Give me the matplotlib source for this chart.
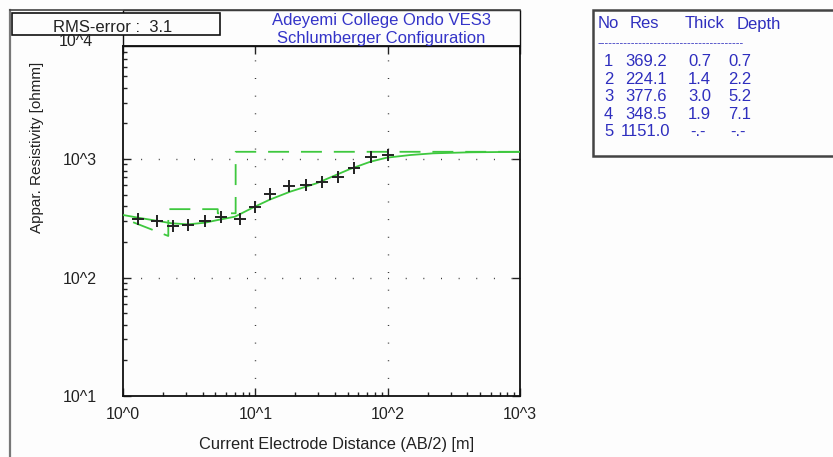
import matplotlib
matplotlib.use("Agg")
import matplotlib.pyplot as plt
from matplotlib.patches import Rectangle
from matplotlib.lines import Line2D
from matplotlib.ticker import FixedLocator, LogLocator, NullFormatter

plt.rcParams['font.family'] = ['Liberation Sans', 'DejaVu Sans']

# field data (AB/2 in m, apparent resistivity in ohm-m)
ab2_obs = [1.3, 1.8, 2.4, 3.1, 4.2, 5.5, 7.6, 10, 13, 18, 24, 32, 42, 56, 75, 100]
rho_obs = [310, 301, 273, 277, 301, 322, 310, 396, 504, 591, 600, 643, 701, 835, 1046, 1081]

# calculated curve of the fitted model
ab2_calc = [1.0, 1.3, 1.84, 2.32, 3.1, 4.15, 5.22, 7.0, 9.9, 12.9, 18.3, 29, 52, 74, 98, 148, 220, 420, 1000]
rho_calc = [337, 320, 300, 287, 281, 290, 306, 326, 396, 455, 530, 624, 824, 949, 1026, 1081, 1117, 1140, 1150]

# layer model
res = [369.2, 224.1, 377.6, 348.5, 1151.0]
thick = [0.7, 1.4, 3.0, 1.9]
depth = [0.7, 2.2, 5.2, 7.1]

rms = 3.1
title1 = "Adeyemi College Ondo VES3"
title2 = "Schlumberger Configuration"

W, H = 833, 457
fig = plt.figure(figsize=(W / 100, H / 100), dpi=100)
fig.patch.set_facecolor('#fdfdfd')


def fx(x):
    return x / W


def fy(y):
    return 1 - y / H


ax_l, ax_r, ax_t, ax_b = 123, 520, 46, 396
ax = fig.add_axes([fx(ax_l), fy(ax_b), fx(ax_r - ax_l), (ax_b - ax_t) / H])
ax.set_facecolor('#fdfdfd')
ax.set_xscale('log')
ax.set_yscale('log')
ax.set_xlim(1, 1000)
ax.set_ylim(10, 10 ** 3.954)

green = '#3ec83e'

# step line of the layer model
xs = [depth[0]]
ys = [res[0]]
for i in range(1, len(res)):
    bottom = depth[i] if i < len(depth) else 1000
    xs.append(bottom)
    ys.append(res[i])
    if i < len(depth):
        xs.append(bottom)
        ys.append(res[i + 1])
ax.plot(xs, ys, color=green, lw=1.3, dashes=(11.6, 6.6), zorder=3)

ax.plot(ab2_calc, rho_calc, color=green, lw=1.3, zorder=3)
ax.plot(ab2_obs, rho_obs, ls='none', marker='+', ms=9, mew=1.4, color='#222222', zorder=4)

# ticks
xt = [1, 10, 100, 1000]
yt = [10, 100, 1000, 10000]
ax.xaxis.set_major_locator(FixedLocator(xt))
ax.yaxis.set_major_locator(FixedLocator(yt))
ax.xaxis.set_minor_locator(LogLocator(base=10, subs=range(2, 10)))
ax.yaxis.set_minor_locator(LogLocator(base=10, subs=range(2, 10)))
ax.xaxis.set_minor_formatter(NullFormatter())
ax.yaxis.set_minor_formatter(NullFormatter())
ax.set_xticklabels(["10^0", "10^1", "10^2", "10^3"])
ax.set_yticklabels(["10^1", "10^2", "10^3", "10^4"])
ax.tick_params(which='major', direction='in', length=6, width=1, colors='#222222',
               labelsize=11.5, top=True, right=True)
ax.tick_params(which='minor', direction='in', length=3, width=1, colors='#222222',
               top=False, right=False)
ax.tick_params(axis='x', which='major', pad=8)
ax.tick_params(axis='y', which='major', pad=19)
for lab in ax.get_xticklabels() + ax.get_yticklabels():
    lab.set_color('#222222')
ax.yaxis.get_major_ticks()[-1].label1.set_visible(False)
for s in ax.spines.values():
    s.set_linewidth(1.3)
    s.set_color('#111111')

# dotted grid at decades
for gx in [10, 100]:
    ax.axvline(gx, color='#333333', lw=1.0, dashes=(0.7, 12), zorder=1)
for gy in [100, 1000]:
    ax.axhline(gy, color='#333333', lw=1.0, dashes=(0.7, 12), zorder=1)

fig.text(fx(337), fy(445), "Current Electrode Distance (AB/2) [m]", ha='center', va='center',
         fontsize=11.8, color='#222222')
fig.text(fx(37), fy(147), "Appar. Resistivity [ohmm]", ha='center', va='center',
         rotation=90, fontsize=11, color='#222222')

# panel frame
fig.add_artist(Line2D([fx(10), fx(10)], [fy(10), fy(457)], color='#777777', lw=1.6))
fig.add_artist(Line2D([fx(10), fx(ax_r)], [fy(10), fy(10)], color='#444444', lw=1.2))
fig.add_artist(Rectangle((fx(ax_l), fy(ax_t)), fx(ax_r - ax_l), (ax_t - 10) / H,
                         fill=False, ec='#111111', lw=1.0))
fig.text(fx(381), fy(21), title1, ha='center', va='center', fontsize=12, color='#3434c8')
fig.text(fx(381), fy(39), title2, ha='center', va='center', fontsize=12, color='#3434c8')

# fixed "10^4" label above the axes area
fig.text(fx(76), fy(42), "10^4", ha='center', va='center', fontsize=11.5, color='#222222')

# RMS box
fig.add_artist(Rectangle((fx(12), fy(35)), fx(208), 22 / H, fc='#fdfdfd', ec='#111111', lw=1.2))
fig.text(fx(53), fy(28), "RMS-error :  %.1f" % rms, ha='left', va='center', fontsize=12,
         color='#222222')

# layer table
fig.add_artist(Rectangle((fx(593), fy(156)), fx(W - 593 + 5), (156 - 10) / H,
                         fc='#fdfdfd', ec='#444444', lw=1.8))
tc = '#2e2ebe'
fig.text(fx(598), fy(24), "No", ha='left', va='center', fontsize=12, color=tc)
fig.text(fx(630), fy(24), "Res", ha='left', va='center', fontsize=12, color=tc)
fig.text(fx(685), fy(24), "Thick", ha='left', va='center', fontsize=12, color=tc)
fig.text(fx(737), fy(24), "Depth", ha='left', va='center', fontsize=12, color=tc)
fig.text(fx(598), fy(43), "-" * 39, ha='left', va='center', fontsize=8, color=tc)
for i, r in enumerate(res):
    yy = fy(61.5 + 17.6 * i)
    fig.text(fx(604), yy, str(i + 1), ha='left', va='center', fontsize=12, color=tc)
    fig.text(fx(625 if r < 1000 else 621), yy, "%.1f" % r, ha='left', va='center',
             fontsize=12, color=tc)
    t = "%.1f" % thick[i] if i < len(thick) else "-.-"
    d = "%.1f" % depth[i] if i < len(depth) else "-.-"
    fig.text(fx(688 if i < len(thick) else 690), yy, t, ha='left', va='center', fontsize=12, color=tc)
    fig.text(fx(728 if i < len(depth) else 730), yy, d, ha='left', va='center', fontsize=12, color=tc)

fig.savefig("out.png", dpi=100, facecolor=fig.get_facecolor())
